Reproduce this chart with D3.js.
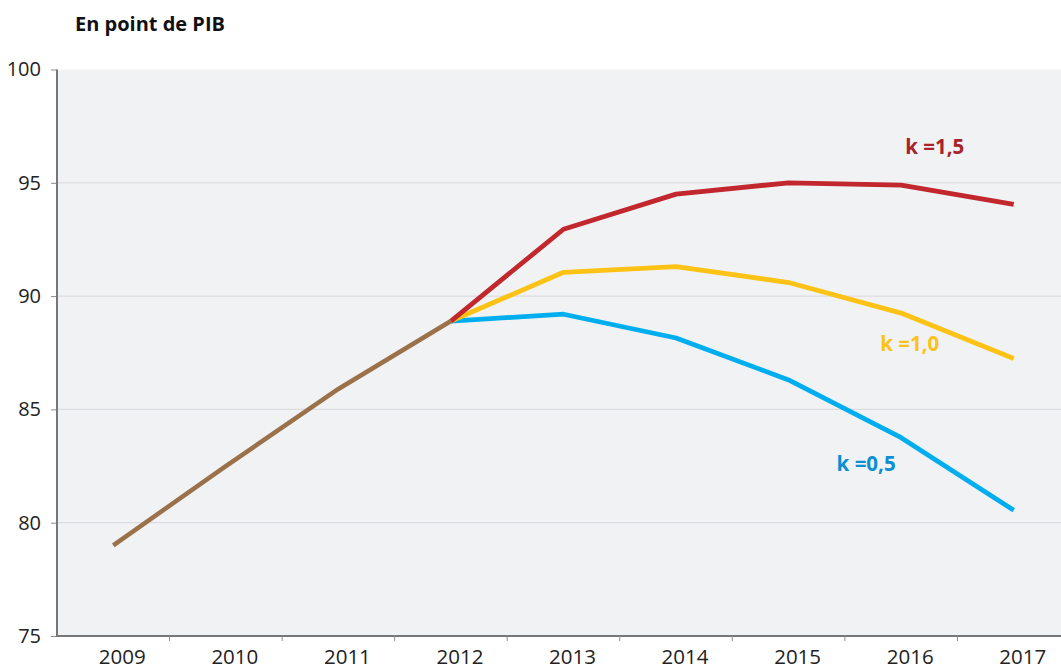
<!DOCTYPE html>
<html>
<head>
<meta charset="utf-8">
<script src="https://cdn.jsdelivr.net/npm/d3@7"></script>
<style>
  html, body { margin: 0; padding: 0; background: #fff; overflow: hidden; }
  svg { display: block; font-family: "Open Sans", "Noto Sans", sans-serif; }
</style>
</head>
<body>
<div id="chart"></div>
<script>
// --------------------------------------
//  Data
// --------------------------------------

const years = [2009, 2010, 2011, 2012, 2013, 2014, 2015, 2016, 2017];
const yTicks = [75, 80, 85, 90, 95, 100];

// common path (all three scenarios overlap until 2012)
const commonYears = [2009, 2010, 2011, 2012];
const commonValues = [79.0, 82.5, 85.9, 88.9];

const scenYears = [2012, 2013, 2014, 2015, 2016, 2017];
const k15 = [88.9, 92.95, 94.5, 95.0, 94.9, 94.05];
const k10 = [88.9, 91.05, 91.3, 90.6, 89.25, 87.25];
const k05 = [88.9, 89.2, 88.15, 86.3, 83.75, 80.55];

const labels = ["k =1,5", "k =1,0", "k =0,5"];

// --------------------------------------
//  Canvas
// --------------------------------------

const width = 1061;
const height = 671;
const margin = {top: 69.5, right: -9, bottom: 35, left: 57};
const innerWidth = width - margin.left - margin.right;
const innerHeight = height - margin.top - margin.bottom;
const font = "'Open Sans', 'Noto Sans', sans-serif";

const svg = d3.select("#chart")
  .append("svg")
    .attr("width", width)
    .attr("height", height);

svg.append("text")
    .attr("x", 75)
    .attr("y", 31)
    .attr("font-weight", "bold")
    .attr("font-size", 20)
    .attr("fill", "#111")
    .text("En point de PIB");

const inner = svg.append("g")
    .attr("transform", `translate(${margin.left}, ${margin.top})`);

// --------------------------------------
//  Scales
// --------------------------------------

const x = d3.scaleBand()
    .domain(years)
    .range([0, innerWidth]);

const y = d3.scaleLinear()
    .domain([75, 100])
    .range([innerHeight, 0]);

const xc = (d) => x(d) + x.bandwidth() / 2;

// background (stops at the right edge of the picture)
inner.append("rect")
    .attr("x", 0)
    .attr("y", 0)
    .attr("width", width - margin.left)
    .attr("height", innerHeight)
    .attr("fill", "#f1f2f4");

// gridlines
inner.selectAll("line.grid")
  .data(yTicks.filter(d => d > 75 && d < 100))
  .join("line")
    .attr("class", "grid")
    .attr("x1", 0)
    .attr("x2", width - margin.left)
    .attr("y1", d => y(d))
    .attr("y2", d => y(d))
    .attr("stroke", "#dcdde0")
    .attr("stroke-width", 1.2);

// --------------------------------------
//  Axes
// --------------------------------------

const yAxis = d3.axisLeft(y)
    .tickValues(yTicks)
    .tickSize(6)
    .tickPadding(10)
    .tickFormat(d3.format("d"));

const gy = inner.append("g").call(yAxis)
    .attr("font-family", font)
    .attr("font-size", 20);
gy.select(".domain").remove();
gy.selectAll(".tick line").attr("stroke", "#8a8a8a").attr("stroke-width", 1);
gy.selectAll("text").attr("fill", "#222");

inner.append("line")
    .attr("x1", 0).attr("x2", 0)
    .attr("y1", 0).attr("y2", innerHeight + 0.5)
    .attr("stroke", "#777").attr("stroke-width", 2);

// bottom axis line and ticks on band boundaries
inner.append("line")
    .attr("x1", 0).attr("x2", width - margin.left)
    .attr("y1", innerHeight).attr("y2", innerHeight)
    .attr("stroke", "#777").attr("stroke-width", 2);

inner.selectAll("line.xtick")
  .data(years.slice(1))
  .join("line")
    .attr("class", "xtick")
    .attr("x1", d => x(d)).attr("x2", d => x(d))
    .attr("y1", innerHeight).attr("y2", innerHeight + 5)
    .attr("stroke", "#8a8a8a");

inner.selectAll("text.xlab")
  .data(years)
  .join("text")
    .attr("class", "xlab")
    .attr("x", d => xc(d) + 9)
    .attr("y", innerHeight + 28)
    .attr("text-anchor", "middle")
    .attr("font-size", 20.5)
    .attr("fill", "#222")
    .text(d => d);

// --------------------------------------
//  Lines
// --------------------------------------

const line = d3.line()
    .x(d => xc(d[0]))
    .y(d => y(d[1]));

const series = [
  {values: k05, color: "#00aeef"},
  {values: k10, color: "#fdc216"},
  {values: k15, color: "#c1272d"}
];

inner.selectAll("path.scen")
  .data(series)
  .join("path")
    .attr("class", "scen")
    .attr("d", d => line(d3.zip(scenYears, d.values)))
    .attr("fill", "none")
    .attr("stroke", d => d.color)
    .attr("stroke-width", 4.8)
    .attr("stroke-linejoin", "round");

inner.append("path")
    .attr("d", line(d3.zip(commonYears, commonValues)))
    .attr("fill", "none")
    .attr("stroke", "#9a7149")
    .attr("stroke-width", 4.5);

// --------------------------------------
//  Labels
// --------------------------------------

const labelPos = [
  {year: 2016, value: 96.6, color: "#a8232b", dx: 4},
  {year: 2016, value: 87.9, color: "#fdc216", dx: -21},
  {year: 2015, value: 82.6, color: "#0b8fd3", dx: 48}
];

inner.selectAll("text.klab")
  .data(labelPos)
  .join("text")
    .attr("class", "klab")
    .attr("x", d => xc(d.year) + d.dx)
    .attr("y", d => y(d.value))
    .attr("dy", "0.35em")
    .attr("text-anchor", "start")
    .attr("font-weight", "bold")
    .attr("font-size", 20.5)
    .attr("fill", d => d.color)
    .text((d, i) => labels[i]);
</script>
</body>
</html>
